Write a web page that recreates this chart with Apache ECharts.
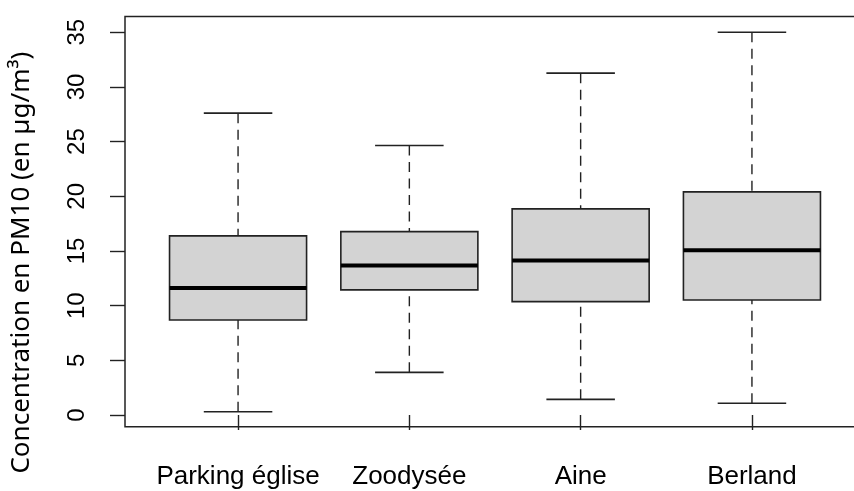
<!DOCTYPE html>
<html>
<head>
<meta charset="utf-8">
<script src="https://cdn.jsdelivr.net/npm/echarts@6/dist/echarts.min.js"></script>
<style>
html,body{margin:0;padding:0;background:#fff;}
#chart{width:854px;height:491px;}
</style>
</head>
<body>
<div id="chart"></div>
<script>
var categories = ['Parking église', 'Zoodysée', 'Aine', 'Berland'];
var lowerWhisker = [0.3, 3.9, 1.43, 1.07];
var q1 = [8.69, 11.44, 10.37, 10.52];
var median = [11.62, 13.66, 14.12, 15.07];
var q3 = [16.38, 16.77, 18.85, 20.40];
var upperWhisker = [27.6, 24.64, 31.26, 35.0];
var yTicks = [0, 5, 10, 15, 20, 25, 30, 35];
var xTicks = [1, 2, 3, 4];

var data = categories.map(function (c, i) {
  return [i + 1, lowerWhisker[i], q1[i], median[i], q3[i], upperWhisker[i]];
});

var chart = echarts.init(document.getElementById('chart'), null, {renderer: 'canvas'});

function renderItem(params, api) {
  var x = api.value(0);
  var lo = api.coord([x, api.value(1)]);
  var b1 = api.coord([x, api.value(2)]);
  var md = api.coord([x, api.value(3)]);
  var b3 = api.coord([x, api.value(4)]);
  var hi = api.coord([x, api.value(5)]);
  var left = api.coord([x - 0.4, 0])[0];
  var right = api.coord([x + 0.4, 0])[0];
  var cl = api.coord([x - 0.2, 0])[0];
  var cr = api.coord([x + 0.2, 0])[0];
  var stroke = '#222';
  var dash = {stroke: stroke, lineWidth: 1.4, lineDash: [10, 6.5], fill: null};
  var solid = {stroke: stroke, lineWidth: 1.6, fill: null};
  return {
    type: 'group',
    children: [
      {type: 'line', shape: {x1: lo[0], y1: lo[1], x2: b1[0], y2: b1[1]}, style: dash},
      {type: 'line', shape: {x1: hi[0], y1: hi[1], x2: b3[0], y2: b3[1]}, style: dash},
      {type: 'line', shape: {x1: cl, y1: lo[1], x2: cr, y2: lo[1]}, style: solid},
      {type: 'line', shape: {x1: cl, y1: hi[1], x2: cr, y2: hi[1]}, style: solid},
      {type: 'rect', shape: {x: left, y: b3[1], width: right - left, height: b1[1] - b3[1]},
        style: {fill: '#d3d3d3', stroke: stroke, lineWidth: 1.6}},
      {type: 'line', shape: {x1: left, y1: md[1], x2: right, y2: md[1]},
        style: {stroke: '#000', lineWidth: 4, fill: null, lineCap: 'butt'}}
    ]
  };
}

chart.setOption({
  animation: false,
  backgroundColor: '#fff',
  grid: {
    left: 125, top: 16.5, width: 740, height: 410.2,
    outerBoundsMode: 'none', containLabel: false,
    show: true, borderColor: '#222', borderWidth: 1.5, backgroundColor: 'transparent'
  },
  xAxis: {
    type: 'value', min: 0.34, max: 4.66,
    splitLine: {show: false},
    axisLine: {show: false},
    axisTick: {show: true, length: 15, customValues: xTicks, lineStyle: {color: '#222', width: 1.4}},
    axisLabel: {
      customValues: xTicks, margin: 37,
      formatter: function (v) { return categories[Math.round(v) - 1]; },
      fontFamily: 'Liberation Sans', fontSize: 26, color: '#000'
    }
  },
  yAxis: {
    type: 'value', min: -1.07, max: 36.44,
    splitLine: {show: false},
    axisLine: {show: false},
    axisTick: {show: true, length: 15, customValues: yTicks, lineStyle: {color: '#222', width: 1.4}},
    axisLabel: {
      customValues: yTicks, rotate: 90, margin: 36,
      fontFamily: 'Liberation Sans', fontSize: 24, color: '#000'
    },
    name: 'Concentration en PM10 (en µg/m³)',
    nameLocation: 'middle', nameRotate: 90, nameGap: 90,
    nameTextStyle: {fontFamily: 'Noto Sans', fontSize: 26, color: '#000', padding: [0, 82, 0, 0]}
  },
  series: [{
    type: 'custom',
    renderItem: renderItem,
    data: data,
    encode: {x: 0, y: [1, 2, 3, 4, 5]},
    clip: false
  }]
});
</script>
</body>
</html>
